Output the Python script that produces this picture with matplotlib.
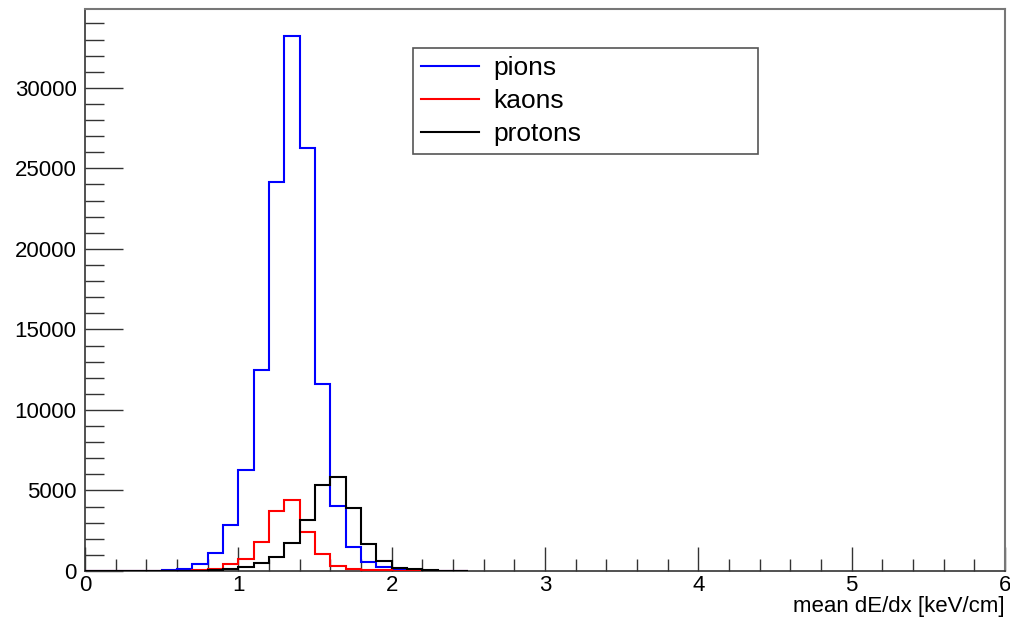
import numpy as np
import matplotlib.pyplot as plt
from matplotlib.ticker import MultipleLocator

plt.rcParams['font.family'] = ['Liberation Sans', 'DejaVu Sans']

# bins of width 0.1 starting at 0.5 keV/cm
bin_lo = 0.5
bin_w = 0.1
pions = [60, 150, 450, 1100, 2860, 6250, 12480, 24150, 33200, 26250,
         11600, 4050, 1480, 530, 270, 100, 50, 20, 10, 0]
kaons = [0, 10, 40, 130, 410, 720, 1820, 3750, 4410, 2440,
         1035, 320, 100, 50, 30, 20, 15, 10, 5, 0]
protons = [0, 5, 20, 50, 120, 240, 490, 890, 1760, 3170,
           5340, 5860, 3930, 1660, 650, 200, 100, 40, 15, 0]
labels = ["pions", "kaons", "protons"]
colors = ["#0000ff", "#ff0000", "#000000"]

edges = bin_lo + bin_w * np.arange(len(pions) + 1)

fig = plt.figure(figsize=(10.10, 6.23), dpi=100)
ax = fig.add_axes([0.0842, 0.0835, 0.9108, 0.9021])

for i, (vals, lab, col) in enumerate(zip([pions, kaons, protons], labels, colors)):
    ax.stairs(vals, edges, color=col, lw=1.5, label=lab, zorder=3 + i)
    # flat zero line across the rest of the range, like a full histogram
    ax.plot([0, bin_lo], [0, 0], color=col, lw=1.5, zorder=3 + i)

ax.set_xlim(0, 6)
ax.set_ylim(0, 34900)

ax.xaxis.set_major_locator(MultipleLocator(1))
ax.xaxis.set_minor_locator(MultipleLocator(0.2))
ax.yaxis.set_major_locator(MultipleLocator(5000))
ax.yaxis.set_minor_locator(MultipleLocator(1000))
ax.tick_params(axis='both', which='both', direction='in', labelsize=16,
               color='#333333', width=1)
ax.tick_params(axis='x', which='major', length=17, pad=3)
ax.tick_params(axis='x', which='minor', length=9)
ax.tick_params(axis='y', which='major', length=27, pad=6)
ax.tick_params(axis='y', which='minor', length=14)

for side in ['top', 'right']:
    ax.spines[side].set_color('#777777')
    ax.spines[side].set_linewidth(1.5)
for side in ['left', 'bottom']:
    ax.spines[side].set_color('#333333')
    ax.spines[side].set_linewidth(1.2)

ax.set_xlabel("mean dE/dx [keV/cm]", fontsize=16, loc='right', labelpad=0)

leg = ax.legend(loc='upper left',
                bbox_to_anchor=(413 / 1010, 1 - 48 / 623 - 0.01, 345 / 1010, 0.01),
                bbox_transform=fig.transFigure, mode='expand',
                fontsize=19, handlelength=2.2, handletextpad=0.55,
                labelspacing=0.35, borderpad=0.3, borderaxespad=0,
                fancybox=False, framealpha=1)
leg.get_frame().set_edgecolor('#555555')
leg.get_frame().set_linewidth(1.2)
for line in leg.get_lines():
    line.set_linewidth(1.5)

fig.savefig("out.png", dpi=100)
